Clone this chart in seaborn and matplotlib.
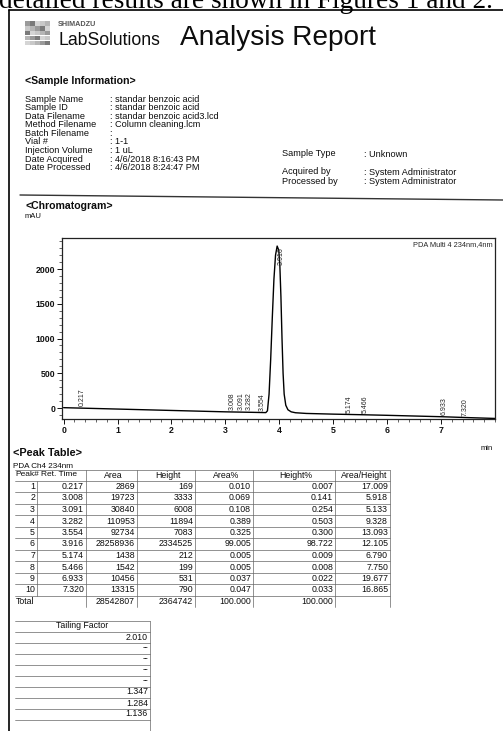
import numpy as np
import matplotlib
matplotlib.use("Agg")
import matplotlib.pyplot as plt
import seaborn as sns
from matplotlib.lines import Line2D
from matplotlib.patches import Rectangle

# ---------------- data ----------------
trace_time = [0.00, 0.50, 1.00, 1.50, 2.00, 2.50, 3.00, 3.50, 3.75, 3.78, 3.81, 3.84, 3.87,
              3.90, 3.93, 3.96, 3.99, 4.01, 4.03, 4.05, 4.07, 4.09, 4.12, 4.16, 4.22, 4.30,
              4.50, 5.00, 5.50, 6.00, 6.50, 7.00, 7.50, 8.00]
trace_mau = [5, -5, -15, -25, -35, -45, -55, -62, -66, -40, 200, 700, 1300,
             1850, 2200, 2330, 2270, 2050, 1600, 1000, 500, 200, 40, -25, -55, -68,
             -78, -88, -96, -105, -115, -125, -138, -150]

peak_no = [1, 2, 3, 4, 5, 6, 7, 8, 9, 10]
ret_time = [0.217, 3.008, 3.091, 3.282, 3.554, 3.916, 5.174, 5.466, 6.933, 7.320]
area = [2869, 19723, 30840, 110953, 92734, 28258936, 1438, 1542, 10456, 13315]
height = [169, 3333, 6008, 11894, 7083, 2334525, 212, 199, 531, 790]
area_pct = [0.010, 0.069, 0.108, 0.389, 0.325, 99.005, 0.005, 0.005, 0.037, 0.047]
height_pct = [0.007, 0.141, 0.254, 0.503, 0.300, 98.722, 0.009, 0.008, 0.022, 0.033]
area_height = [17.009, 5.918, 5.133, 9.328, 13.093, 12.105, 6.790, 7.750, 19.677, 16.865]
total_area = 28542807
total_height = 2364742
tailing = ["2.010", "--", "--", "--", "--", "1.347", "1.284", "1.136"]

info_labels = ["Sample Name", "Sample ID", "Data Filename", "Method Filename", "Batch Filename",
               "Vial #", "Injection Volume", "Date Acquired", "Date Processed"]
info_values = ["standar benzoic acid", "standar benzoic acid", "standar benzoic acid3.lcd",
               "Column cleaning.lcm", "", "1-1", "1 uL", "4/6/2018 8:16:43 PM", "4/6/2018 8:24:47 PM"]
info2_labels = ["Sample Type", "Acquired by", "Processed by"]
info2_values = ["Unknown", "System Administrator", "System Administrator"]

y_ticks = [0, 500, 1000, 1500, 2000]
x_ticks = [0, 1, 2, 3, 4, 5, 6, 7]

# ---------------- figure ----------------
sns.set_style("white")
plt.rcParams["font.family"] = ["Liberation Sans", "DejaVu Sans"]
W, H = 503, 731
fig = plt.figure(figsize=(W / 100, H / 100), dpi=100)
fig.patch.set_facecolor("white")


def T(x, y, s, **kw):
    kw.setdefault("va", "center")
    kw.setdefault("ha", "left")
    kw.setdefault("color", "#0d0d0d")
    return fig.text(x / W, 1 - y / H, s, **kw)


def L(x0, y0, x1, y1, **kw):
    kw.setdefault("color", "#222222")
    kw.setdefault("lw", 0.8)
    fig.add_artist(Line2D([x0 / W, x1 / W], [1 - y0 / H, 1 - y1 / H],
                          transform=fig.transFigure, **kw))


# caption from the surrounding paper (cut at the top)
T(-1, 8, "detailed results are shown in Figures 1 and 2.", fontsize=19.6,
  family=["Liberation Serif"], va="baseline", color="black")

# page border
L(9, 10, 503, 10, lw=1.2, color="black")
L(9, 10, 9, 731, lw=1.2, color="black")

# logo
greys = ["#9a9a9a", "#c8c8c8", "#7a7a7a", "#b5b5b5", "#d5d5d5"]
for i in range(5):
    for j in range(5):
        fig.add_artist(Rectangle(((25 + i * 5) / W, 1 - (21 + (j + 1) * 4.8) / H), 4.6 / W, 4.3 / H,
                                 transform=fig.transFigure, color=greys[(i * 2 + j) % 5], lw=0))
T(58, 25, "SHIMADZU", fontsize=5.2, weight="bold", color="#555555")
T(58, 45, "LabSolutions", fontsize=12.7, va="baseline")
T(180, 45, "Analysis Report", fontsize=20.2, va="baseline")

# sample information
T(25, 81, "<Sample Information>", fontsize=7.6, weight="bold")
row_y = [99, 107.6, 116.2, 124.8, 133.4, 142, 150.6, 159.2, 167.8]
for yy, lab, val in zip(row_y, info_labels, info_values):
    T(25, yy, lab, fontsize=6.6)
    T(110, yy, ": " + val, fontsize=6.6)
for yy, lab, val in zip([154, 172, 181], info2_labels, info2_values):
    T(282, yy, lab, fontsize=6.6)
    T(364, yy + 0.5, ": " + val, fontsize=6.6)

L(20, 195, 503, 200, lw=1.0, color="#333333")

T(25, 206, "<Chromatogram>", fontsize=7.6, weight="bold")
T(25, 217, "mAU", fontsize=5.5)

# ---------------- chromatogram ----------------
ax = fig.add_axes([62 / W, 1 - 419 / H, (495 - 62) / W, (419 - 238) / H])
sns.lineplot(x=trace_time, y=trace_mau, ax=ax, color="black", lw=1.0,
             estimator=None, sort=False)
ax.set_xlim(-0.03, 8.0)
ax.set_ylim(-158, 2446)
ax.set_xticks(x_ticks)
ax.set_xticklabels([str(v) for v in x_ticks])
ax.set_yticks(y_ticks)
ax.set_yticklabels([str(v) for v in y_ticks])
ax.set_xticks(np.arange(0, 8.01, 0.2), minor=True)
ax.set_yticks(np.arange(-100, 2401, 100), minor=True)
ax.tick_params(axis="both", which="major", direction="out", length=3.5, width=0.7,
               labelsize=6.3, pad=1.5, colors="#111111")
ax.tick_params(axis="both", which="minor", direction="out", length=2, width=0.5)
ax.tick_params(bottom=True, left=True, which="both")
for lbl in ax.get_xticklabels() + ax.get_yticklabels():
    lbl.set_fontweight("bold")
for sp in ax.spines.values():
    sp.set_linewidth(0.9)
    sp.set_color("#222222")
ax.set_xlabel("")
ax.set_ylabel("")
ax.text(0.995, 0.985, "PDA Multi 4 234nm,4nm", transform=ax.transAxes, ha="right",
        va="top", fontsize=5.3)

# peak labels
ylim_top = ax.get_ylim()[1]
label_len = 270
prev = -1
for rt, h in zip(ret_time, height):
    base = float(np.interp(rt, trace_time, trace_mau))
    lab = f"{rt:.3f}"
    if base + 25 + label_len > ylim_top:
        ax.text(rt + 0.24, h / 1000.0, lab, rotation=90, fontsize=5, ha="center", va="top")
    else:
        xl = max(rt + 0.12, prev + 0.16)
        prev = xl
        ax.text(xl, base + 25, lab, rotation=90, fontsize=5, ha="center", va="bottom")

T(487, 449, "min", fontsize=5.5, ha="center")

# ---------------- peak table ----------------
T(13, 453, "<Peak Table>", fontsize=7.8, weight="bold")
T(13, 466, "PDA Ch4 234nm", fontsize=5.9)

col_sep = [15, 37, 86, 137, 195, 253, 335, 390]
headers = ["Peak#", "Ret. Time", "Area", "Height", "Area%", "Height%", "Area/Height"]
hy = 475
rs = 11.5
fs = 6.3
T(col_sep[0] + 0.5, hy, headers[0], fontsize=6)
T(col_sep[1] + 4, hy, headers[1], fontsize=6)
for c in range(2, len(headers)):
    T((col_sep[c] + col_sep[c + 1]) / 2 + 2, hy, headers[c], fontsize=6.3, ha="center")

rows = []
for i in range(len(peak_no)):
    rows.append([str(peak_no[i]), f"{ret_time[i]:.3f}", str(area[i]), str(height[i]),
                 f"{area_pct[i]:.3f}", f"{height_pct[i]:.3f}", f"{area_height[i]:.3f}"])
rows.append(["Total", "", str(total_area), str(total_height), "100.000", "100.000", ""])

for r, row in enumerate(rows):
    yy = hy + rs * (r + 1)
    for c, val in enumerate(row):
        if r == len(rows) - 1 and c == 0:
            T(col_sep[0] + 1, yy, val, fontsize=fs)
        else:
            T(col_sep[c + 1] - 2, yy, val, fontsize=fs, ha="right")

n_lines = len(rows) + 1
for k in range(n_lines):
    yl = hy - rs / 2 + rs * k
    L(col_sep[0], yl if k else yl + 1, col_sep[-1], yl if k else yl + 1, lw=0.5, color="#666666")
for xs in col_sep[2:]:
    L(xs, hy - rs / 2 + 1, xs, hy + rs * (len(rows) + 0.5), lw=0.5, color="#666666")
L(col_sep[1], hy + rs / 2, col_sep[1], hy + rs * (len(rows) - 0.5), lw=0.5, color="#666666")

# tailing factor table
ty = 626
rt_s = 11
T(82, ty, "Tailing Factor", fontsize=6.3, ha="center")
L(15, ty - rt_s / 2, 150, ty - rt_s / 2, lw=0.5, color="#666666")
L(15, ty + rt_s / 2, 150, ty + rt_s / 2, lw=0.5, color="#666666")
L(150, ty - rt_s / 2, 150, 731, lw=0.5, color="#666666")
for i, tf in enumerate(tailing):
    yy = ty + rt_s * (i + 1)
    T(148, yy, tf, fontsize=fs, ha="right")
    L(15, yy + rt_s / 2, 150, yy + rt_s / 2, lw=0.5, color="#666666")

fig.savefig("out.png", dpi=100, facecolor="white")
